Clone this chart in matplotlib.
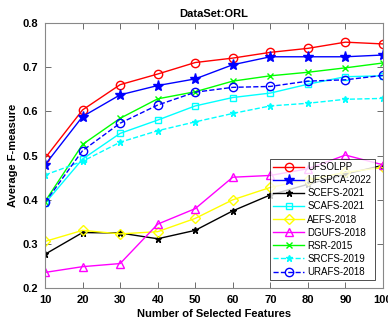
import matplotlib.pyplot as plt
import numpy as np

plt.rcParams['font.family'] = ['Liberation Sans', 'DejaVu Sans']

features = [10, 20, 30, 40, 50, 60, 70, 80, 90, 100]

ufsolpp = [0.494, 0.603, 0.660, 0.684, 0.710, 0.720, 0.733, 0.742, 0.756, 0.752]
ufspca = [0.479, 0.588, 0.637, 0.658, 0.673, 0.705, 0.723, 0.723, 0.723, 0.727]
scefs = [0.277, 0.326, 0.325, 0.312, 0.331, 0.375, 0.411, 0.435, 0.458, 0.478]
scafs = [0.392, 0.492, 0.550, 0.580, 0.612, 0.631, 0.641, 0.661, 0.678, 0.680]
aefs = [0.306, 0.331, 0.323, 0.328, 0.358, 0.400, 0.428, 0.445, 0.462, 0.473]
dgufs = [0.236, 0.249, 0.256, 0.345, 0.380, 0.451, 0.455, 0.470, 0.501, 0.479]
rsr = [0.396, 0.525, 0.584, 0.628, 0.644, 0.668, 0.680, 0.688, 0.698, 0.709]
srcfs = [0.456, 0.487, 0.530, 0.556, 0.576, 0.595, 0.612, 0.618, 0.627, 0.629]
urafs = [0.394, 0.511, 0.573, 0.614, 0.643, 0.654, 0.656, 0.668, 0.671, 0.681]

names = ['UFSOLPP', 'UFSPCA-2022', 'SCEFS-2021', 'SCAFS-2021', 'AEFS-2018',
         'DGUFS-2018', 'RSR-2015', 'SRCFS-2019', 'URAFS-2018']
series = [ufsolpp, ufspca, scefs, scafs, aefs, dgufs, rsr, srcfs, urafs]
colors = ['#ff0000', '#0000ff', '#000000', '#00ffff', '#ffff00', '#ff00ff',
          '#00ff00', '#00ffff', '#0000ff']
markers = ['o', '*', '*', 's', 'D', '^', 'x', '*', 'o']
msizes = [6, 8, 5, 5, 5, 6, 4, 5, 6]
styles = ['-', '-', '-', '-', '-', '-', '-', '--', '--']
filled = [False, True, True, False, False, False, True, True, False]

fig = plt.figure(figsize=(3.88, 3.24), dpi=100)
ax = fig.add_axes([0.116, 0.110, 0.871, 0.820])

for vals, name, c, m, ms, ls, f in zip(series, names, colors, markers, msizes, styles, filled):
    ax.plot(features, vals, color=c, marker=m, markersize=ms, linestyle=ls,
            linewidth=1.0, markerfacecolor=c if f else 'none',
            markeredgecolor=c, markeredgewidth=1.0, label=name)

ax.set_xlim(10, 100)
ax.set_ylim(0.2, 0.8)
ax.set_xticks(features)
ax.set_yticks([0.2, 0.3, 0.4, 0.5, 0.6, 0.7, 0.8])
ax.tick_params(direction='in', length=4, width=0.6, color='#555555',
               labelsize=8, top=True, right=True, pad=5)
for lab in ax.get_xticklabels() + ax.get_yticklabels():
    lab.set_fontweight('bold')
for s in ax.spines.values():
    s.set_color('#888888')
    s.set_linewidth(0.8)

ax.set_title('DataSet:ORL', fontsize=8, fontweight='bold', pad=4)
ax.set_xlabel('Number of Selected Features', fontsize=8, fontweight='bold', labelpad=3)
ax.set_ylabel('Average F-measure', fontsize=8, fontweight='bold', labelpad=3)

leg = ax.legend(loc='lower right', bbox_to_anchor=(0.975, 0.03), fontsize=7,
                frameon=True, fancybox=False, handlelength=3.2, borderpad=0.35,
                labelspacing=0.32, handletextpad=0.3, borderaxespad=0.0)
leg.get_frame().set_edgecolor('#000000')
leg.get_frame().set_linewidth(0.6)

fig.savefig('out.png', dpi=100)
